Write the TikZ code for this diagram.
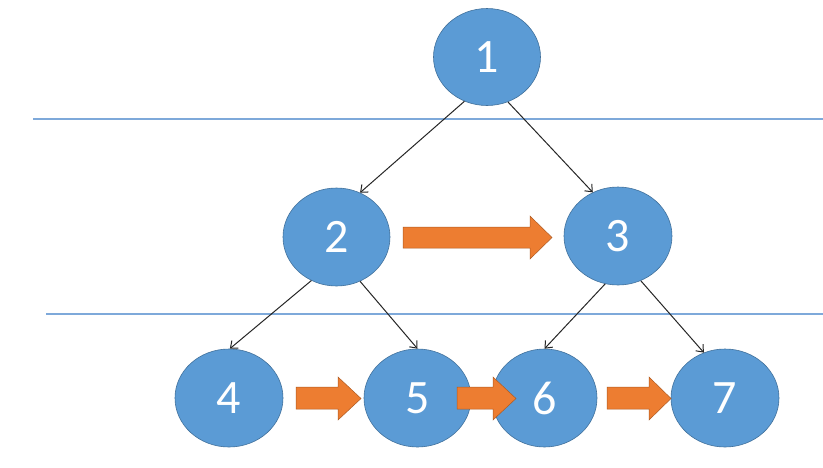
\documentclass[tikz,border=0pt]{standalone}
\usepackage{fontspec}
\setmainfont{Carlito}
\usetikzlibrary{shapes.geometric,arrows.meta}
\definecolor{nodeblue}{HTML}{5B9BD5}
\definecolor{nodeedge}{HTML}{41719C}
\definecolor{arrorange}{HTML}{ED7D31}
\definecolor{arredge}{HTML}{AE5A21}
\definecolor{linblue}{HTML}{7EA9DA}
\tikzset{
  treenode/.style={ellipse, fill=nodeblue, draw=nodeedge, line width=0.6pt,
    inner sep=0pt, text=white, font=\fontsize{48}{48}\selectfont},
  treeedge/.style={draw=black!85, line width=1pt, -{Straight Barb[length=6pt,width=10pt]}},
  hline/.style={draw=linblue, line width=1.8pt},
  blockarrow/.style={fill=arrorange, draw=arredge, line width=0.5pt, line join=miter}
}
\begin{document}
\begin{tikzpicture}[x=1pt,y=-1pt]
\useasboundingbox (0,0) rectangle (823,467);
\fill[white] (0,0) rectangle (823,467);
% horizontal lines
\draw[hline] (33,118.7) -- (823,118.7);
\draw[hline] (46,314.3) -- (823,314.3);
% nodes
\node[treenode, minimum width=107pt, minimum height=97pt] (n1) at (487,57) {1};
\node[treenode, minimum width=107pt, minimum height=98pt] (n2) at (336.5,237) {2};
\node[treenode, minimum width=108pt, minimum height=98pt] (n3) at (618,236) {3};
\node[treenode, minimum width=108pt, minimum height=98pt] (n4) at (229,398) {4};
\node[treenode, minimum width=107pt, minimum height=98pt] (n5) at (417.5,398) {5};
\node[treenode, minimum width=105pt, minimum height=98pt] (n6) at (544.5,398) {6};
\node[treenode, minimum width=108pt, minimum height=98pt] (n7) at (725,398) {7};
% tree edges
\draw[treeedge] (n1.243) -- (n2.62);
\draw[treeedge] (n1.295) -- (n3.120);
\draw[treeedge] (n2.240) -- (n4.89);
\draw[treeedge] (n2.298) -- (n5.90);
\draw[treeedge] (n3.255) -- (n6.90);
\draw[treeedge] (n3.297) -- (n7.115);
% orange block arrows
\draw[blockarrow] (403,227) -- (530,227) -- (530,216) -- (552,237.5) -- (530,259) -- (530,248) -- (403,248) -- cycle;
\draw[blockarrow] (296,387) -- (338,387) -- (338,377) -- (361,398.5) -- (338,420) -- (338,409) -- (296,409) -- cycle;
\draw[blockarrow] (457,387) -- (493,387) -- (493,377) -- (516,398.5) -- (493,420) -- (493,409) -- (457,409) -- cycle;
\draw[blockarrow] (607,387) -- (649,387) -- (649,377) -- (671,398.5) -- (649,420) -- (649,409) -- (607,409) -- cycle;
\end{tikzpicture}
\end{document}
